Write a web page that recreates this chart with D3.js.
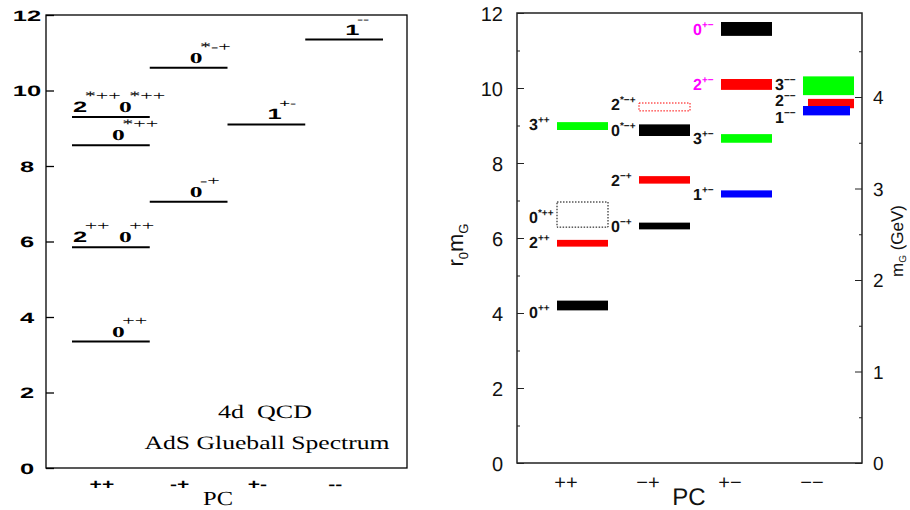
<!DOCTYPE html>
<html>
<head>
<meta charset="utf-8">
<script src="https://cdn.jsdelivr.net/npm/d3@7"></script>
<style>
	body { margin: 0; background: #fff; }
	text { text-rendering: geometricPrecision; }
</style>
</head>
<body>
<div id="root"></div>
<script>
// ---- data ----
const pcCategories = ["++", "-+", "+-", "--"];

// left: AdS glueball spectrum (r0 m_G)
const adsPC = ["++", "++", "++", "++", "-+", "-+", "+-", "--"];
const adsMass = [3.35, 5.85, 8.55, 9.3, 7.05, 10.6, 9.1, 11.35];
const adsJ = [["0"], ["2", "0"], ["0*"], ["2*", "0*"], ["0"], ["0*"], ["1"], ["1"]];
const adsTicks = [0, 2, 4, 6, 8, 10, 12];

// right: lattice spectrum, band low / high in r0 m_G
const latPC = ["++", "++", "++", "++", "-+", "-+", "-+", "-+", "+-", "+-", "+-", "+-", "--", "--", "--"];
const latJ = ["0", "2", "0*", "3", "0", "2", "0*", "2*", "1", "3", "2", "0", "3", "2", "1"];
const latLow = [4.07, 5.77, 6.29, 8.88, 6.23, 7.45, 8.72, 9.39, 7.08, 8.54, 9.95, 11.39, 9.81, 9.46, 9.27];
const latHigh = [4.33, 5.95, 6.96, 9.09, 6.41, 7.65, 9.03, 9.60, 7.27, 8.77, 10.24, 11.76, 10.31, 9.71, 9.52];
const latBound = ["0*++", "2*-+"];   // drawn as dotted boxes
const latExotic = ["0+-", "2+-"];    // magenta labels
const r0PerGeV = 2.44;               // r0 m_G for 1 GeV

// ---- layout ----
const W = 910, H = 510;
const sans = "'Liberation Sans', Arial, sans-serif";
const serif = "'Liberation Serif', 'Times New Roman', serif";
const stretch = 1.7; // the left panel is horizontally stretched

const svg = d3.select("#root").append("svg")
	.attr("width", W)
	.attr("height", H);

// ============ left panel ============
const L = { left: 46, right: 407, top: 15, bottom: 468 };
const yL = d3.scaleLinear().domain([0, 12]).range([L.bottom, L.top]);
const xL = d3.scaleBand().domain(pcCategories).range([72, 383]);

const left = svg.append("g");

left.append("rect")
	.attr("x", L.left).attr("y", L.top)
	.attr("width", L.right - L.left).attr("height", L.bottom - L.top)
	.attr("fill", "none").attr("stroke", "#000").attr("stroke-width", 1.3);

left.append("g")
	.attr("transform", `translate(${L.left},0)`)
	.call(d3.axisLeft(yL).tickValues(adsTicks).tickSizeInner(-8).tickSizeOuter(0).tickFormat(""))
	.call(g => g.select(".domain").remove())
	.call(g => g.selectAll("line").attr("stroke", "#000").attr("stroke-width", 1.3));

left.selectAll(".ytl")
	.data(adsTicks).enter()
	.append("text")
	.attr("class", "ytl")
	.attr("transform", d => `translate(27,${yL(d) + 5.5}) scale(${stretch},1)`)
	.attr("text-anchor", "middle")
	.style("font-family", sans).style("font-weight", "bold").style("font-size", "15px")
	.text(d => d);

left.selectAll(".xtl")
	.data(pcCategories).enter()
	.append("text")
	.attr("class", "xtl")
	.attr("transform", d => `translate(${xL(d) + xL.bandwidth() / 2 - 9},489) scale(1.5,1)`)
	.attr("text-anchor", "middle")
	.style("font-family", sans).style("font-weight", "bold").style("font-size", "14px")
	.text(d => d);

left.append("text")
	.attr("x", 218).attr("y", 505)
	.attr("text-anchor", "middle")
	.attr("textLength", 30).attr("lengthAdjust", "spacingAndGlyphs")
	.style("font-family", serif).style("font-size", "20px")
	.text("PC");

left.append("text")
	.attr("x", 265).attr("y", 418)
	.attr("text-anchor", "middle")
	.attr("textLength", 94).attr("lengthAdjust", "spacingAndGlyphs")
	.style("font-family", serif).style("font-size", "19px")
	.style("white-space", "pre")
	.text("4d  QCD");

left.append("text")
	.attr("x", 267).attr("y", 449)
	.attr("text-anchor", "middle")
	.attr("textLength", 245).attr("lengthAdjust", "spacingAndGlyphs")
	.style("font-family", serif).style("font-size", "19px")
	.text("AdS Glueball Spectrum");

adsPC.forEach((pc, i) => {
	const x0 = xL(pc);
	const y0 = yL(adsMass[i]);
	left.append("line")
		.attr("x1", x0).attr("x2", x0 + xL.bandwidth())
		.attr("y1", y0).attr("y2", y0)
		.attr("stroke", "#000").attr("stroke-width", 2);

	adsJ[i].forEach((j, k) => {
		const lx = x0 + (adsJ[i].length === 1 ? 40 : 1 + 46 * k);
		const digit = j[0];
		const t = left.append("text")
			.attr("transform", `translate(${lx},${y0 - 5}) scale(${stretch},1)`);
		t.append("tspan")
			.style("font-family", digit === "0" ? serif : sans)
			.style("font-weight", "bold").style("font-size", "15px")
			.text(digit);
		t.append("tspan")
			.attr("dy", -12)
			.attr("dx", -1.5)
			.style("font-family", digit === "1" ? sans : serif)
			.style("font-size", digit === "1" ? "11px" : "13px")
			.text((j.includes("*") ? "*" : "") + pc);
	});
});

// ============ right panel ============
const R = { left: 517, right: 862, top: 13, bottom: 463 };
const yR = d3.scaleLinear().domain([0, 12]).range([R.bottom, R.top]);
const yGeV = d3.scaleLinear().domain([0, 12 / r0PerGeV]).range([R.bottom, R.top]);
const xR = d3.scaleBand().domain(pcCategories).range([557, 854]).paddingInner(31 / 82).paddingOuter(0);
const colorJ = d3.scaleOrdinal().domain(["0", "1", "2", "3"]).range(["#000000", "#0000ff", "#ff0000", "#00ff00"]);
const show = s => s.replace(/-/g, "\u2212");

const right = svg.append("g");

right.append("rect")
	.attr("x", R.left).attr("y", R.top)
	.attr("width", R.right - R.left).attr("height", R.bottom - R.top)
	.attr("fill", "none").attr("stroke", "#222").attr("stroke-width", 1.5);

const styleAxis = g => {
	g.select(".domain").remove();
	g.selectAll("line").attr("stroke", "#222").attr("stroke-width", 1);
	g.selectAll("text").style("font-family", sans).style("font-size", "20px").attr("fill", "#111");
};

right.append("g")
	.attr("transform", `translate(${R.left},0)`)
	.call(d3.axisLeft(yR).tickValues(d3.range(1, 12, 2)).tickSizeInner(-3).tickSizeOuter(0).tickFormat(""))
	.call(styleAxis);
right.append("g")
	.attr("transform", `translate(${R.left},0)`)
	.call(d3.axisLeft(yR).tickValues(d3.range(0, 13, 2)).tickSizeInner(-7).tickSizeOuter(0).tickPadding(14).tickFormat(d3.format("d")))
	.call(styleAxis)
	.call(g => g.selectAll("text").attr("dy", "0.36em"));

right.append("g")
	.attr("transform", `translate(${R.right},0)`)
	.call(d3.axisRight(yGeV).tickValues(d3.range(0.5, 4.9, 1)).tickSizeInner(-3).tickSizeOuter(0).tickFormat(""))
	.call(styleAxis);
right.append("g")
	.attr("transform", `translate(${R.right},0)`)
	.call(d3.axisRight(yGeV).tickValues(d3.range(0, 5, 1)).tickSizeInner(-7).tickSizeOuter(0).tickPadding(11).tickFormat(d3.format("d")))
	.call(styleAxis)
	.call(g => g.selectAll("text").style("font-size", "19px").attr("dy", "0.36em"));

right.selectAll(".xtr")
	.data(pcCategories).enter()
	.append("text")
	.attr("class", "xtr")
	.attr("x", d => xR(d) + 9)
	.attr("y", 489)
	.attr("text-anchor", "middle")
	.style("font-family", sans).style("font-size", "20px").attr("fill", "#111")
	.text(d => show(d));

right.append("text")
	.attr("x", 689).attr("y", 505)
	.attr("text-anchor", "middle")
	.style("font-family", sans).style("font-size", "24px").attr("fill", "#111")
	.text("PC");

// y labels
const yLab = right.append("text")
	.attr("transform", "translate(463,245) rotate(-90)")
	.attr("text-anchor", "middle")
	.style("font-family", sans).style("font-size", "22px").attr("fill", "#111");
yLab.append("tspan").text("r");
yLab.append("tspan").attr("dy", 5).style("font-size", "13px").text("0");
yLab.append("tspan").attr("dy", -5).text("m");
yLab.append("tspan").attr("dy", 5).style("font-size", "13px").text("G");

const gLab = right.append("text")
	.attr("transform", "translate(903,241) rotate(-90)")
	.attr("text-anchor", "middle")
	.style("font-family", sans).style("font-size", "17px").attr("fill", "#111");
gLab.append("tspan").text("m");
gLab.append("tspan").attr("dy", 3).style("font-size", "10px").text("G");
gLab.append("tspan").attr("dy", -3).text(" (GeV)");

// bars
const labelNudge = { "0++": 12, "2++": 5, "0*++": 8, "3++": 4, "2*-+": 3, "3--": 4, "2--": 2.5, "1--": 12 };
const barNudge = { "2--": [5, 0], "1--": [0, -4] };

const states = latPC.map((pc, i) => ({
	pc: pc, j: latJ[i], lo: latLow[i], hi: latHigh[i], key: latJ[i] + pc
}));

right.selectAll(".bar")
	.data(states).enter()
	.append("rect")
	.attr("class", "bar")
	.attr("x", d => xR(d.pc) + (barNudge[d.key] || [0, 0])[0])
	.attr("width", d => xR.bandwidth() - (barNudge[d.key] || [0, 0])[0] + (barNudge[d.key] || [0, 0])[1])
	.attr("y", d => yR(d.hi))
	.attr("height", d => yR(d.lo) - yR(d.hi))
	.attr("fill", d => latBound.includes(d.key) ? "none" : colorJ(d.j[0]))
	.attr("stroke", d => latBound.includes(d.key) ? colorJ(d.j[0]) : "none")
	.attr("stroke-width", 1)
	.attr("stroke-dasharray", d => latBound.includes(d.key) ? "1.5,1.5" : null);

const labels = right.selectAll(".lab")
	.data(states).enter()
	.append("text")
	.attr("class", "lab")
	.attr("x", d => xR(d.pc) - 28)
	.attr("y", d => (yR(d.hi) + yR(d.lo)) / 2 + (labelNudge[d.key] !== undefined ? labelNudge[d.key] : 6))
	.style("font-family", sans).style("font-weight", "bold")
	.attr("fill", d => latExotic.includes(d.key) ? "#ff00ff" : "#111");
labels.append("tspan")
	.style("font-size", "16px")
	.text(d => d.j[0]);
labels.append("tspan")
	.attr("dy", -7)
	.style("font-size", "10px")
	.text(d => (d.j.includes("*") ? "*" : "") + show(d.pc));
</script>
</body>
</html>
